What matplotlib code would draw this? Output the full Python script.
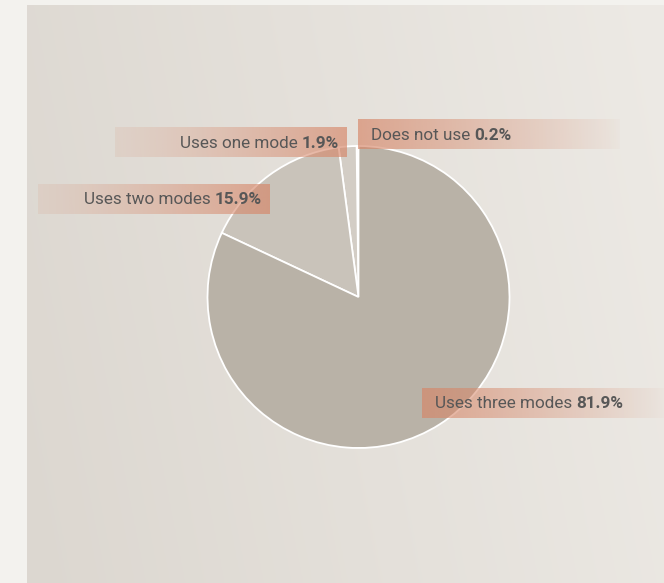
import numpy as np
import matplotlib
matplotlib.use("Agg")
import matplotlib.pyplot as plt
from matplotlib import font_manager

categories = ["Does not use", "Uses one mode", "Uses two modes", "Uses three modes"]
values = [0.2, 1.9, 15.9, 81.9]
value_labels = ["0.2%", "1.9%", "15.9%", "81.9%"]
slice_colors = ["#dcd7d1", "#d3cdc5", "#c9c3ba", "#b9b2a7"]

# label layout (pixel boxes: x0, x1, ycenter, side where text sits)
label_boxes = {
    "Does not use": (358, 620, 134, "left"),
    "Uses one mode": (115, 347, 142, "right"),
    "Uses two modes": (38, 270, 199, "right"),
    "Uses three modes": (422, 664, 403, "left"),
}

W, H = 664, 583
DPI = 100
fig = plt.figure(figsize=(W / DPI, H / DPI), dpi=DPI)
fig.patch.set_facecolor("#f3f2ee")

names = set(f.name for f in font_manager.fontManager.ttflist)
if "Liberation Sans Narrow" in names:
    fam = ["Liberation Sans Narrow", "DejaVu Sans"]
else:
    fam = ["Roboto", "DejaVu Sans"]

# background panel with gradient
bg = fig.add_axes([27 / W, 0, 1 - 27 / W, 1 - 5 / H])
bg.set_axis_off()
gx = np.linspace(0, 1, 256)[None, :]
gy = np.linspace(0, 1, 256)[:, None]
t = np.clip(0.85 * gx + 0.15 * (1 - gy), 0, 1)
c0 = np.array([220, 215, 208]) / 255
c1 = np.array([237, 234, 229]) / 255
img = c0[None, None, :] * (1 - t[..., None]) + c1[None, None, :] * t[..., None]
bg.imshow(img, aspect="auto", extent=[0, 1, 0, 1], origin="upper")
bg.set_xlim(0, 1)
bg.set_ylim(0, 1)

# pie
cx, cy, r = 358.5, 297, 151
ax = fig.add_axes([(cx - r) / W, (H - cy - r) / H, 2 * r / W, 2 * r / H])
ax.pie(values, colors=slice_colors, startangle=90, counterclock=True,
       wedgeprops=dict(edgecolor="white", linewidth=1.3), radius=1.0)
ax.set_xlim(-1, 1)
ax.set_ylim(-1, 1)
ax.set_aspect("equal")
ax.set_axis_off()

# overlay for labels (pixel coordinates)
ov = fig.add_axes([0, 0, 1, 1])
ov.set_xlim(0, W)
ov.set_ylim(H, 0)
ov.set_axis_off()
ov.patch.set_alpha(0)

box_rgb = np.array([214, 134, 104]) / 255
bh = 30
renderer = fig.canvas.get_renderer()
fs = 12.3
tc = "#575757"
for cat, val in zip(categories, value_labels):
    x0, x1, yc, side = label_boxes[cat]
    n = 256
    a = np.linspace(0, 1, n)
    if side == "left":
        alpha = 0.03 + 0.64 * (1 - a) ** 0.9
    else:
        alpha = 0.12 + 0.55 * a ** 1.2
    rgba = np.zeros((1, n, 4))
    rgba[..., :3] = box_rgb
    rgba[..., 3] = alpha
    ov.imshow(rgba, aspect="auto", extent=[x0, x1, yc + bh / 2, yc - bh / 2],
              interpolation="bilinear", zorder=3)
    if side == "left":
        t1 = ov.text(x0 + 13, yc + 1, cat + " ", ha="left", va="center", fontsize=fs,
                     color=tc, family=fam, zorder=4)
        bb = t1.get_window_extent(renderer)
        xb = ov.transData.inverted().transform((bb.x1, 0))[0]
        ov.text(xb, yc + 1, val, ha="left", va="center", fontsize=fs,
                color=tc, family=fam, fontweight="bold", zorder=4)
    else:
        t2 = ov.text(x1 - 8, yc + 1, val, ha="right", va="center", fontsize=fs,
                     color=tc, family=fam, fontweight="bold", zorder=4)
        bb = t2.get_window_extent(renderer)
        xa = ov.transData.inverted().transform((bb.x0, 0))[0]
        ov.text(xa, yc + 1, cat + " ", ha="right", va="center", fontsize=fs,
                color=tc, family=fam, zorder=4)
ov.set_xlim(0, W)
ov.set_ylim(H, 0)

fig.savefig("out.png", dpi=DPI, facecolor=fig.get_facecolor())
